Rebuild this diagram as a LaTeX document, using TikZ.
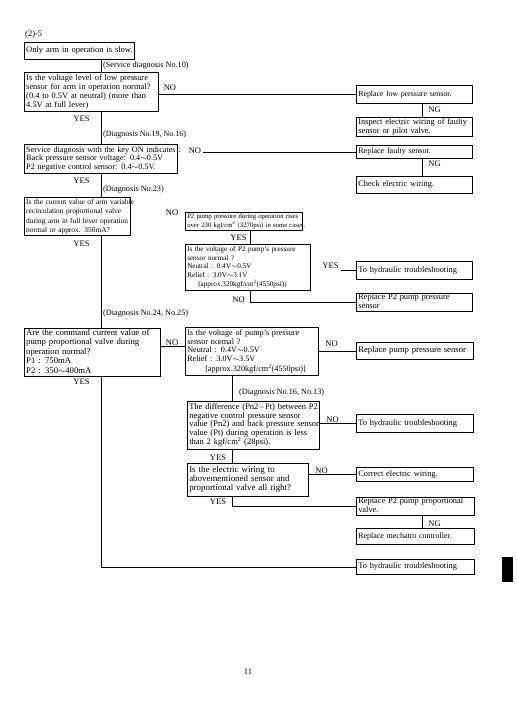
\documentclass[tikz,border=0pt]{standalone}
\usepackage{fontspec}
\setmainfont{Liberation Serif}
\newcommand\tl[1]{\begin{tabular}{@{}l@{}}#1\end{tabular}}
\newcommand\fs[2]{\fontsize{#1}{#2}\selectfont}
\tikzset{
  bx/.style={draw, line width=0.9pt, anchor=north west, align=left, inner xsep=1.8pt, inner ysep=0pt, font=\fs{8.2}{8.7}},
  lab/.style={anchor=west, inner sep=0pt, font=\fs{8.2}{8.7}},
  yn/.style={inner xsep=2pt, inner ysep=0pt, font=\fs{8.5}{9}},
  ln/.style={line width=0.7pt},
}
\begin{document}
\begin{tikzpicture}[x=1pt,y=-1pt]
\fill[white] (0,0) rectangle (517,726);
\useasboundingbox (0,0) rectangle (517,726);
% title
\node[anchor=west, inner sep=0pt, font=\fs{8.5}{9}] (title) at (25,34) {(2)-5};
% left column
\node[bx, font=\fs{8.5}{8.7}, text width=106.4pt, minimum height=17pt] (B1) at (24,42) {\tl{Only arm in operation is slow.}};
\node[bx, font=\fs{8.4}{9.1}, text width=130.4pt, minimum height=38.4pt] (B2) at (24,72.3) {\tl{Is the voltage level of low pressure\\sensor for arm in operation normal?\\(0.4 to 0.5V at neutral) (more than\\4.5V at full lever)}};
\node[bx, font=\fs{8.2}{8.85}, text width=149.4pt, minimum height=29.3pt] (B3) at (24,144) {\tl{Service diagnosis with the key ON indicates :\\Back pressure sensor voltage: 0.4$\sim$0.5V\\P2 negative control sensor: 0.4$\sim$0.5V.}};
\node[bx, font=\fs{7.4}{9.2}, text width=102.4pt, minimum height=37.7pt] (B4) at (24,197.3) {\tl{Is the current value of arm variable\\recirculation proportional valve\\during arm in full lever operation\\normal or approx. 350mA?}};
\node[bx, font=\fs{8.7}{9.4}, text width=132.4pt, minimum height=48pt] (B5) at (24,328) {\tl{Are the command current value of\\pump proportional valve during\\operation normal?\\P1 : 750mA\\P2 : 350$\sim$400mA}};
% middle column
\node[bx, font=\fs{6.7}{8.3}, text width=113.4pt, minimum height=18.3pt] (B6) at (185,211.7) {\tl{P2 pump pressure during operation rises\\over 230 kgf/cm\textsuperscript{2} (3270psi) in some cases.}};
\node[bx, font=\fs{7.2}{8.5}, text width=121.4pt, minimum height=46pt] (B7) at (185,244) {\tl{Is the voltage of P2 pump's pressure\\sensor normal ?\\Neutral : 0.4V$\sim$0.5V\\Relief : 3.0V$\sim$3.1V\\\hspace{11pt}(approx.320kgf/cm\textsuperscript{2}(4550psi))}};
\node[bx, font=\fs{8.2}{8.8}, text width=129.4pt, minimum height=48pt] (B8) at (185,327) {\tl{Is the voltage of pump's pressure\\sensor normal ?\\Neutral : 0.4V$\sim$0.5V\\Relief : 3.0V$\sim$3.5V\\\hspace{18pt}[approx.320kgf/cm\textsuperscript{2}(4550psi)]}};
\node[bx, font=\fs{8.5}{8.4}, text width=128.4pt, minimum height=48.6pt] (B9) at (187,400.7) {\tl{The difference (Pn2$-$Pt) between P2\\negative control pressure sensor\\value (Pn2) and back pressure sensor\\value (Pt) during operation is less\\than 2 kgf/cm\textsuperscript{2} (28psi).}};
\node[bx, font=\fs{8.9}{9}, text width=117.4pt, minimum height=32.7pt] (B10) at (187,463.3) {\tl{Is the electric wiring to\\abovementioned sensor and\\proportional valve all right?}};
% right column
\node[bx, font=\fs{7.9}{8.7}, text width=112.4pt, minimum height=18pt] (R1) at (356,85) {\tl{Replace low pressure sensor.}};
\node[bx, font=\fs{8.4}{8.7}, text width=112.4pt, minimum height=19pt] (R1b) at (356,117) {\tl{Inspect electric wiring of faulty\\sensor or pilot valve.}};
\node[bx, font=\fs{8.1}{8.7}, text width=112.4pt, minimum height=13pt] (R2) at (356,145) {\tl{Replace faulty sensor.}};
\node[bx, font=\fs{8.4}{8.7}, text width=112.4pt, minimum height=17pt] (R2b) at (356,176) {\tl{Check electric wiring.}};
\node[bx, font=\fs{8.4}{8.7}, text width=112.4pt, minimum height=18pt] (H1) at (356,261) {\tl{To hydraulic troubleshooting}};
\node[bx, font=\fs{8.4}{8.7}, text width=112.4pt, minimum height=18pt] (R3) at (356,293) {\tl{Replace P2 pump pressure\\sensor}};
\node[bx, font=\fs{8.7}{8.7}, text width=113.4pt, minimum height=17pt] (R4) at (356,342) {\tl{Replace pump pressure sensor}};
\node[bx, font=\fs{8.4}{8.7}, text width=113.4pt, minimum height=18pt] (H2) at (356,414) {\tl{To hydraulic troubleshooting}};
\node[bx, font=\fs{8.4}{8.7}, text width=113.4pt, minimum height=14pt] (C1) at (356,467) {\tl{Correct electric wiring.}};
\node[bx, font=\fs{8.4}{8.7}, text width=114.4pt, minimum height=18pt] (R5) at (356,497) {\tl{Replace P2 pump proportional\\valve.}};
\node[bx, font=\fs{8.0}{8.7}, text width=114.4pt, minimum height=16pt] (R5b) at (356,528) {\tl{Replace mechatro controller.}};
\node[bx, font=\fs{8.4}{8.7}, text width=114.4pt, minimum height=15pt] (H3) at (356,559) {\tl{To hydraulic troubleshooting}};
% diagnosis labels
\node[lab] (d1) at (103,66) {(Service diagnosis No.10)};
\node[lab, font=\fs{8.0}{8.7}] (d2) at (103,135) {(Diagnosis No.19, No.16)};
\node[lab] (d3) at (103,190) {(Diagnosis No.23)};
\node[lab] (d4) at (103,314) {(Diagnosis No.24, No.25)};
\node[lab] (d5) at (239,393) {(Diagnosis No.16, No.13)};
% YES / NO / NG
\node[yn] (n2) at (170,88) {NO};
\node[yn] (y2) at (81.5,119) {YES};
\node[yn] (n3) at (195,150.7) {NO};
\node[yn] (y3) at (81.5,181) {YES};
\node[yn] (n4) at (172,212.7) {NO};
\node[yn] (y4) at (81.5,244) {YES};
\node[yn] (y6) at (238.5,237.3) {YES};
\node[yn] (y7) at (330.5,266) {YES};
\node[yn] (n7) at (238.5,300) {NO};
\node[yn] (n5) at (172,342.7) {NO};
\node[yn] (y5) at (81.5,381.7) {YES};
\node[yn] (n8) at (331.5,343.3) {NO};
\node[yn] (n9) at (332.5,419.3) {NO};
\node[yn] (y9) at (218,457.3) {YES};
\node[yn] (n10) at (321.5,470.7) {NO};
\node[yn] (y10) at (218,501.7) {YES};
\node[yn] (g1) at (434.5,110) {NG};
\node[yn] (g2) at (434.5,163.3) {NG};
\node[yn] (g3) at (434.5,523.3) {NG};
% spines
\coordinate (s1) at (101,0);
\coordinate (s2) at (250,0);
\coordinate (s3) at (232,0);
\coordinate (s4) at (422,0);
\coordinate (l5) at (0,346.7);
% connectors
\draw[ln] (B1.south -| s1) -- (B2.north -| s1);
\draw[ln] (B2.south -| s1) -- (B3.north -| s1);
\draw[ln] (B3.south -| s1) -- (B4.north -| s1);
\draw[ln] (B4.south -| s1) -- (B5.north -| s1);
\draw[ln] (B5.south -| s1) |- (H3.west);
\draw[ln] (B2.east |- R1.west) -- (R1.west);
\draw[ln] (R1.south -| s4) -- (R1b.north -| s4);
\draw[ln] (n3.east |- R2.west) -- (R2.west);
\draw[ln] (R2.south -| s4) -- (R2b.north -| s4);
\draw[ln] (B6.south -| s2) -- (B7.north -| s2);
\draw[ln] (y7.east |- H1.west) -- (H1.west);
\draw[ln] (B7.south -| s2) |- (R3.west);
\draw[ln] (B5.east |- l5) -- (B8.west |- l5);
\draw[ln] (B8.east |- R4.west) -- (R4.west);
\draw[ln] (B8.south -| s3) -- (B9.north -| s3);
\draw[ln] (B9.east |- H2.west) -- (H2.west);
\draw[ln] (B9.south -| s3) -- (B10.north -| s3);
\draw[ln] (B10.east |- C1.west) -- (C1.west);
\draw[ln] (B10.south -| s3) |- (R5.west);
\draw[ln] (R5.south -| s4) -- (R5b.north -| s4);
% page marks
\fill[black] (502,557) rectangle (513,582);
\node[inner sep=0pt, font=\fs{8.5}{9}] (pg) at (248,672) {11};
\end{tikzpicture}
\end{document}
